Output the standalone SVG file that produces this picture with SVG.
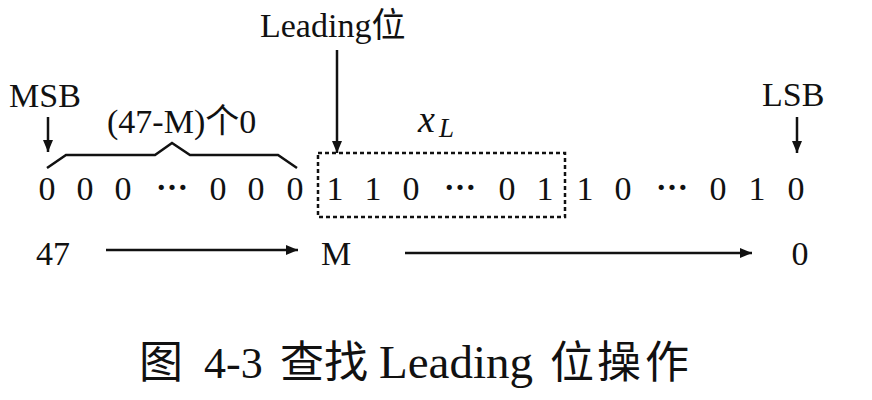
<svg xmlns="http://www.w3.org/2000/svg" width="872" height="400" viewBox="0 0 872 400">
<style>
text{font-family:"Liberation Serif","Noto Sans CJK SC",serif;fill:#111}
.lbl{font-size:34px}
.dig{font-size:34px;text-anchor:middle}
.dots{font-size:32px;font-weight:bold;text-anchor:middle}
.cap{font-size:44px}
.ln{stroke:#111;stroke-width:2.5;fill:none}
</style>
<defs>
<marker id="ah" viewBox="0 0 12 10" refX="12" refY="5" markerWidth="12" markerHeight="10" markerUnits="userSpaceOnUse" orient="auto">
<path d="M0,0 L12,5 L0,10 z" fill="#111"/>
</marker>
</defs>
<rect width="872" height="400" fill="#fff"/>
<g id="labels">
<text class="lbl" x="9" y="107">MSB</text>
<text class="lbl" x="762" y="106">LSB</text>
<text class="lbl" x="260" y="37">Leading位</text>
<text class="lbl" x="107" y="133">(47-M)个0</text>
<text x="418" y="132" style="font-style:italic;font-size:38px">x</text>
<text x="439" y="137" style="font-style:italic;font-size:27px">L</text>
</g>
<g id="bits">
<text class="dig" x="47" y="200">0</text>
<text class="dig" x="85" y="200">0</text>
<text class="dig" x="123" y="200">0</text>
<text class="dots" x="172" y="190">…</text>
<text class="dig" x="218" y="200">0</text>
<text class="dig" x="256" y="200">0</text>
<text class="dig" x="295" y="200">0</text>
<text class="dig" x="335" y="200">1</text>
<text class="dig" x="373" y="200">1</text>
<text class="dig" x="411" y="200">0</text>
<text class="dots" x="460" y="190">…</text>
<text class="dig" x="507" y="200">0</text>
<text class="dig" x="545" y="200">1</text>
<text class="dig" x="585" y="200">1</text>
<text class="dig" x="623" y="200">0</text>
<text class="dots" x="672" y="190">…</text>
<text class="dig" x="718" y="200">0</text>
<text class="dig" x="757" y="200">1</text>
<text class="dig" x="796" y="200">0</text>
</g>
<g id="index">
<text class="lbl" x="36" y="265">47</text>
<text class="lbl" x="321" y="265">M</text>
<text class="dig" x="800" y="265">0</text>
</g>
<g id="xL-box">
<rect class="ln" x="318" y="153" width="247" height="64" stroke-dasharray="4 3"/>
</g>
<g id="connectors">
<path class="ln" d="M47,168 L66,155 L155,155 L172,143 L190,155 L278,155 L297,168"/>
<line class="ln" x1="48" y1="117" x2="48" y2="152" marker-end="url(#ah)"/>
<line class="ln" x1="797" y1="117" x2="797" y2="153" marker-end="url(#ah)"/>
<line class="ln" x1="337" y1="50" x2="337" y2="153" marker-end="url(#ah)"/>
<line class="ln" x1="106" y1="250" x2="298" y2="250" marker-end="url(#ah)"/>
<line class="ln" x1="405" y1="253" x2="752" y2="253" marker-end="url(#ah)"/>
</g>
<g id="caption">
<text class="cap" y="378"><tspan x="139">图</tspan><tspan x="204">4-3</tspan><tspan x="280">查</tspan><tspan x="324">找</tspan><tspan x="379" style="font-size:47px">Leading</tspan><tspan x="550">位</tspan><tspan x="597">操</tspan><tspan x="645">作</tspan></text>
</g>
</svg>
